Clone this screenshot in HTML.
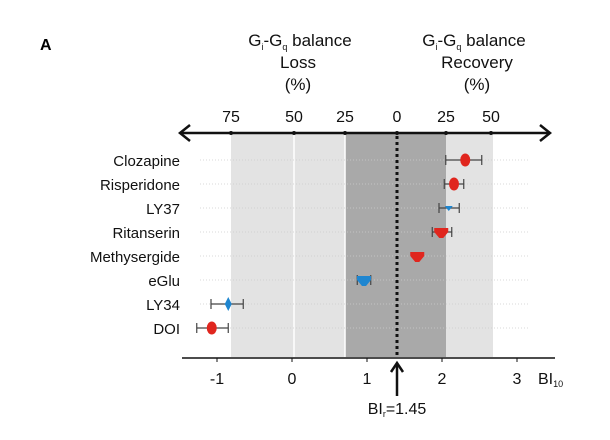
<!DOCTYPE html>
<html><head><meta charset="utf-8"><style>
body{margin:0;background:#fff;font-family:"Liberation Sans",sans-serif}
svg{display:block}
</style></head><body>
<svg width="610" height="440" font-family="Liberation Sans, sans-serif">
<text x="40" y="50" font-size="16" font-weight="bold">A</text>
<g font-size="17" text-anchor="middle" fill="#111">
<text x="300" y="46">G<tspan font-size="9" dy="4">i</tspan><tspan dy="-4">-G</tspan><tspan font-size="9" dy="4">q</tspan><tspan dy="-4"> balance</tspan></text>
<text x="298" y="68">Loss</text><text x="298" y="90">(%)</text></g>
<g font-size="17" text-anchor="middle" fill="#111">
<text x="474" y="46">G<tspan font-size="9" dy="4">i</tspan><tspan dy="-4">-G</tspan><tspan font-size="9" dy="4">q</tspan><tspan dy="-4"> balance</tspan></text>
<text x="477" y="68">Recovery</text><text x="477" y="90">(%)</text></g>
<g id="plot"></g>
</svg>
<script>
const drugs=["Clozapine","Risperidone","LY37","Ritanserin","Methysergide","eGlu","LY34","DOI"];
const values=[2.31,2.16,2.09,1.99,1.67,0.96,-0.85,-1.07];
const errLo=[2.05,2.03,1.96,1.87,1.67,0.87,-1.08,-1.27];
const errHi=[2.53,2.29,2.23,2.13,1.67,1.05,-0.65,-0.85];
const colors=["red","red","blue","red","red","blue","blue","red"];
const shapes=["circle","circle","tri","trap","trap","trap","diamond","circle"];
const bottomTicks=[-1,0,1,2,3];
const topTickVals=[-0.75,-0.5,-0.25,0,0.25,0.5];
const topTickLabels=["75","50","25","0","25","50"];
const bir=1.45;
const ns="http://www.w3.org/2000/svg",g=document.getElementById("plot");
const X=v=>292+75*v;
const Y=i=>160+24*i;
const topX=p=>{const m={"-0.75":231,"-0.5":294,"-0.25":345,"0":397,"0.25":446,"0.5":491};return m[String(p)];};
function el(t,a,name,parent){const e=document.createElementNS(ns,t);for(const k in a)e.setAttribute(k,a[k]);


(parent||g).appendChild(e);return e;}
const BX=topX(0);
el("rect",{x:topX(-0.75),y:134,width:topX(0.5)-topX(-0.75)+2,height:223,fill:"#e3e3e3"},"light-band");
el("rect",{x:topX(-0.25),y:134,width:topX(0.25)-topX(-0.25),height:223,fill:"#a9a9a9"},"dark-band");
el("line",{x1:topX(-0.5),x2:topX(-0.5),y1:134,y2:357,stroke:"#fff","stroke-width":1.5},"band-divider");
el("line",{x1:topX(-0.25),x2:topX(-0.25),y1:134,y2:357,stroke:"#fff","stroke-width":1.5},"band-divider");
drugs.forEach((d,i)=>{
el("line",{x1:200,x2:528,y1:Y(i),y2:Y(i),stroke:"#ccc","stroke-dasharray":"1 2","stroke-width":0.8},"gridline-"+d.toLowerCase());
const t=el("text",{x:180,y:Y(i)+6,"font-size":15,"text-anchor":"end",fill:"#111"},"label-"+d.toLowerCase());t.textContent=d;});
el("line",{x1:BX,x2:BX,y1:136,y2:357,stroke:"#111","stroke-width":3,"stroke-dasharray":"3 3"},"bir-dotted-line");
el("line",{x1:182,x2:548,y1:133,y2:133,stroke:"#111","stroke-width":2.5},"top-axis");
el("path",{d:"M190 125 L180 133 L190 141",fill:"none",stroke:"#111","stroke-width":2.5},"left-arrowhead");
el("path",{d:"M540 125 L550 133 L540 141",fill:"none",stroke:"#111","stroke-width":2.5},"right-arrowhead");
topTickVals.forEach((p,i)=>{const x=topX(p);
el("circle",{cx:x,cy:133,r:2,fill:"#111"},"top-tick");
const t=el("text",{x:x,y:122,"font-size":16,"text-anchor":"middle",fill:"#111"},"top-tick-label");t.textContent=topTickLabels[i];});
el("line",{x1:182,x2:555,y1:358,y2:358,stroke:"#111","stroke-width":1.5},"bottom-axis");
bottomTicks.forEach(v=>{const x=X(v);
el("line",{x1:x,x2:x,y1:358,y2:362,stroke:"#111"},"bottom-tick");
const t=el("text",{x:x,y:384,"font-size":16,"text-anchor":"middle",fill:"#111"},"bottom-tick-label");t.textContent=v;});
const bl=el("text",{x:538,y:384,"font-size":16,fill:"#111"},"x-axis-title");bl.innerHTML='BI<tspan font-size="9" dy="3">10</tspan>';
el("line",{x1:BX,x2:BX,y1:396,y2:364,stroke:"#111","stroke-width":2.5},"bir-arrow");
el("path",{d:`M${BX-6} 372 L${BX} 363 L${BX+6} 372`,fill:"none",stroke:"#111","stroke-width":2.5},"bir-arrowhead");
const bt=el("text",{x:BX,y:414,"font-size":16,"text-anchor":"middle",fill:"#111"},"bir-label");bt.innerHTML='BI<tspan font-size="9" dy="3">r</tspan><tspan dy="-3">=1.45</tspan>';
drugs.forEach((d,i)=>{const y=Y(i),c=colors[i]=="red"?"#e0261e":"#1f86d0";
if(errHi[i]>errLo[i]){
el("line",{x1:X(errLo[i]),x2:X(errHi[i]),y1:y,y2:y,stroke:"#444","stroke-width":1.2},"errorbar-"+d.toLowerCase());
[errLo[i],errHi[i]].forEach(v=>el("line",{x1:X(v),x2:X(v),y1:y-5,y2:y+5,stroke:"#444","stroke-width":1.2},"errorcap-"+d.toLowerCase()));}
const x=X(values[i]);let s=shapes[i];
if(s=="circle")el("ellipse",{cx:x,cy:y,rx:5,ry:6.5,fill:c},"point-"+d.toLowerCase());
else if(s=="tri")el("path",{d:`M${x-4} ${y-2} L${x+4} ${y-2} L${x} ${y+3}Z`,fill:c},"point-"+d.toLowerCase());
else if(s=="trap")el("path",{d:`M${x-7} ${y-4} L${x+7} ${y-4} L${x+7} ${y} L${x+2} ${y+6} L${x-2} ${y+6} L${x-7} ${y}Z`,fill:c},"point-"+d.toLowerCase());
else el("path",{d:`M${x} ${y-7} L${x+3.5} ${y} L${x} ${y+7} L${x-3.5} ${y}Z`,fill:c},"point-"+d.toLowerCase());});
</script>
</body></html>
